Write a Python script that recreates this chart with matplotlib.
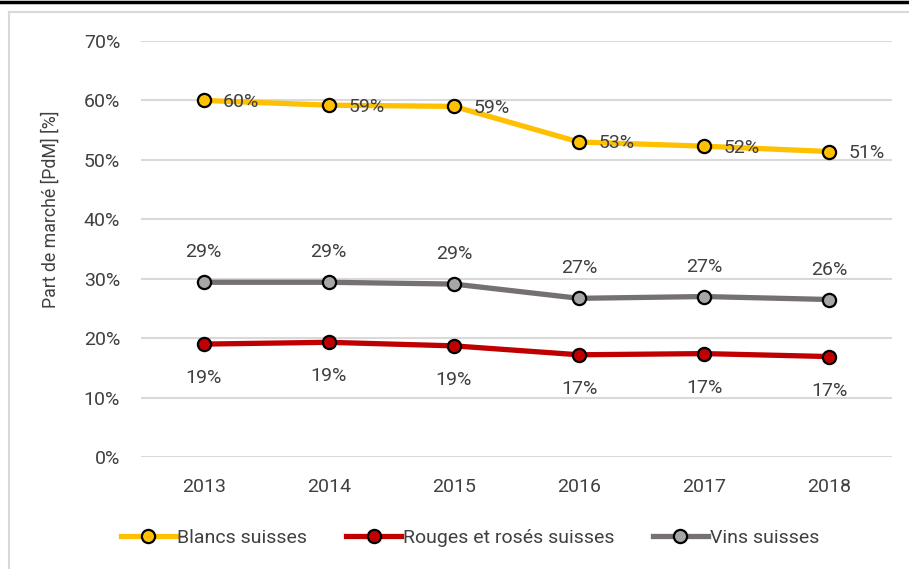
import matplotlib.pyplot as plt
from matplotlib.lines import Line2D

years = ['2013', '2014', '2015', '2016', '2017', '2018']
blancs = [60.0, 59.2, 59.0, 53.0, 52.3, 51.4]
rouges = [19.0, 19.3, 18.7, 17.2, 17.4, 16.9]
vins = [29.4, 29.4, 29.1, 26.7, 27.0, 26.5]
yticks = [0, 10, 20, 30, 40, 50, 60, 70]

plt.rcParams['font.family'] = ['Roboto', 'DejaVu Sans']
txt = '#404040'
fs = 14

fig = plt.figure(figsize=(9.09, 5.69), dpi=100)
ax = fig.add_axes([141 / 909, 1 - 457 / 569, 751 / 909, 416 / 569])

# outer frame (left + top) and the black rule at the very top
fig.add_artist(Line2D([9 / 909, 9 / 909], [0, 1 - 12 / 569], transform=fig.transFigure,
                      color='#d9d9d9', lw=1.5))
fig.add_artist(Line2D([9 / 909, 1], [1 - 12 / 569, 1 - 12 / 569], transform=fig.transFigure,
                      color='#d9d9d9', lw=1.5))
fig.add_artist(Line2D([0, 1], [1 - 2 / 569, 1 - 2 / 569], transform=fig.transFigure,
                      color='black', lw=2.5))

x = range(len(years))
series = [
    (blancs, '#ffc000', '#ffc000', 'Blancs suisses'),
    (rouges, '#c00000', '#c00000', 'Rouges et rosés suisses'),
    (vins, '#767171', '#a6a6a6', 'Vins suisses'),
]
for vals, col, mfc, name in series:
    ax.plot(x, vals, color=col, lw=3.8, marker='o', ms=9.5, mfc=mfc,
            mec='black', mew=1.6, label=name, zorder=3)

for i, v in enumerate(blancs):
    ax.annotate(f'{round(v)}%', (i, v), xytext=(14, -1), textcoords='offset points',
                ha='left', va='center', fontsize=fs, color=txt)
for i, v in enumerate(vins):
    ax.annotate(f'{round(v)}%', (i, v), xytext=(0, 15), textcoords='offset points',
                ha='center', va='bottom', fontsize=fs, color=txt)
for i, v in enumerate(rouges):
    ax.annotate(f'{round(v)}%', (i, v), xytext=(0, -18), textcoords='offset points',
                ha='center', va='top', fontsize=fs, color=txt)

ax.set_xlim(-0.5, len(years) - 0.5)
ax.set_ylim(0, 70)
ax.set_yticks(yticks)
ax.set_yticklabels([f'{t}%' for t in yticks])
ax.set_xticks(list(x))
ax.set_xticklabels(years)
ax.tick_params(length=0, labelsize=fs, colors=txt)
ax.tick_params(axis='y', pad=15)
ax.tick_params(axis='x', pad=15)
ax.grid(axis='y', color='#d9d9d9', lw=1.5)
ax.set_axisbelow(True)
for s in ax.spines.values():
    s.set_visible(False)
ax.set_ylabel('Part de marché [PdM] [%]', fontsize=12.8, color=txt, va='center')
ax.yaxis.set_label_coords((51 - 141) / 751, (457 - 209) / 416)

handles, labels = ax.get_legend_handles_labels()
fig.legend(handles, labels, loc='center', bbox_to_anchor=(470 / 909, 1 - 538 / 569), ncol=3,
           frameon=False, fontsize=fs, labelcolor=txt, handlelength=2.8, handletextpad=0.1,
           columnspacing=2.0)

fig.savefig('out.png', dpi=100)
